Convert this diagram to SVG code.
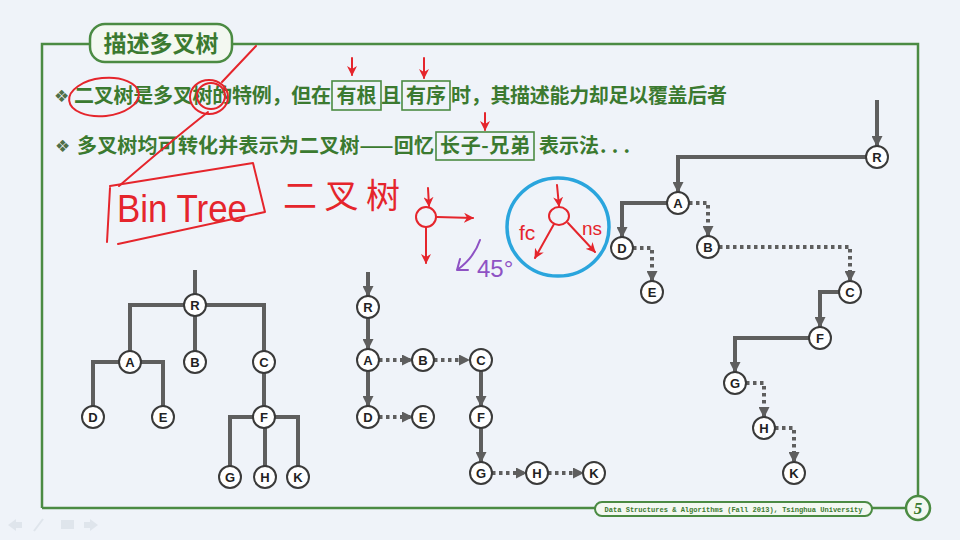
<svg xmlns="http://www.w3.org/2000/svg" width="960" height="540" viewBox="0 0 960 540">
<defs>
<style>
.frame{fill:none;stroke:#4b8b43;stroke-width:2.5}
.cn{font-family:"Noto Sans CJK SC","Noto Sans CJK TC",sans-serif;font-weight:bold;fill:#3b7a30}
.bul{font-family:"DejaVu Sans",sans-serif;font-size:17px;fill:#4f6f48}
.wbox{fill:none;stroke:#4b8b43;stroke-width:1.6}
.ln{fill:none;stroke:#5e5e5e;stroke-width:4}
.dot{fill:none;stroke:#5e5e5e;stroke-width:4;stroke-dasharray:3.5 3.5}
.nd circle{fill:#ffffff;stroke:#3a3a3a;stroke-width:2}
.nd text{font-family:"Liberation Sans",Arial,sans-serif;font-weight:bold;font-size:13px;fill:#222;text-anchor:middle}
.red{fill:none;stroke:#e5252c;stroke-width:2;stroke-linecap:round;stroke-linejoin:round}
.redt{fill:#e5252c;font-family:"Liberation Sans",Arial,sans-serif}
.pur{fill:none;stroke:#8e52c4;stroke-width:2;stroke-linecap:round}
</style>
<marker id="ag" markerUnits="userSpaceOnUse" markerWidth="11" markerHeight="11" refX="10" refY="5.5" orient="auto"><path d="M0,0 L11,5.5 L0,11 z" fill="#5e5e5e"/></marker>
<marker id="ar" markerUnits="userSpaceOnUse" markerWidth="10" markerHeight="10" refX="9" refY="5" orient="auto"><path d="M0,0 L10,5 L0,10 L3,5 z" fill="#e5252c"/></marker>
</defs>
<rect x="0" y="0" width="960" height="540" fill="#eff3f9"/>

<!-- frame -->
<path class="frame" d="M42,508 V44 H918 V496 M42,508 H595 M872,508 H906"/>
<g id="title">
<rect x="90" y="24" width="142" height="38" rx="15" fill="#f3f8f1" stroke="#4b8b43" stroke-width="2.5"/>
<text class="cn" x="161" y="52" font-size="23" text-anchor="middle" fill="#3b7a30">描述多叉树</text>
</g>
<g id="footer">
<rect x="595" y="502" width="277" height="14" rx="7" fill="#f3f8f1" stroke="#4b8b43" stroke-width="2"/>
<text x="733.5" y="511.5" font-family="Liberation Mono,monospace" font-size="7.2" font-weight="bold" fill="#3b7a30" text-anchor="middle" textLength="258" lengthAdjust="spacingAndGlyphs">Data Structures &amp; Algorithms (Fall 2013), Tsinghua University</text>
<circle cx="918" cy="508" r="12" fill="#f3f8f1" stroke="#4b8b43" stroke-width="2.5"/>
<text x="918" y="514" font-family="Liberation Serif,serif" font-size="17" font-weight="bold" font-style="italic" fill="#3b7a30" text-anchor="middle">5</text>
</g>
<g id="nav" fill="#dfe5ec">
<path d="M8,525 L16,519 L16,522 L22,522 L22,528 L16,528 L16,531 z"/>
<path d="M34,531 L43,519" stroke="#dfe5ec" stroke-width="2"/>
<rect x="61" y="520" width="13" height="9"/>
<path d="M98,525 L90,519 L90,522 L84,522 L84,528 L90,528 L90,531 z"/>
</g>

<!-- text lines -->
<g id="line1">
<text class="bul" x="54" y="102">❖</text>
<text class="cn" font-size="20" x="74" y="103" textLength="257" lengthAdjust="spacing">二叉树是多叉树的特例，但在</text>
<rect class="wbox" x="332" y="81" width="49" height="29"/>
<text class="cn" font-size="20" x="336.5" y="103">有根</text>
<text class="cn" font-size="20" x="381" y="103">且</text>
<rect class="wbox" x="402" y="81" width="48" height="29"/>
<text class="cn" font-size="20" x="406" y="103">有序</text>
<text class="cn" font-size="20" x="451" y="103" textLength="276" lengthAdjust="spacing">时，其描述能力却足以覆盖后者</text>
</g>
<g id="line2">
<text class="bul" x="55" y="152">❖</text>
<text class="cn" font-size="20" x="77" y="153" textLength="357" lengthAdjust="spacing">多叉树均可转化并表示为二叉树——回忆</text>
<rect class="wbox" x="436" y="132" width="98" height="28"/>
<text class="cn" font-size="20" x="440" y="153" textLength="90" lengthAdjust="spacing">长子-兄弟</text>
<text class="cn" font-size="20" x="539" y="153">表示法</text>
<text class="cn" font-size="20" x="600" y="153" textLength="30" lengthAdjust="spacing">...</text>
</g>

<!-- handwritten annotations -->
<g id="annotations">
<ellipse class="red" cx="104" cy="97" rx="35" ry="19" transform="rotate(-6 104 97)"/>
<ellipse class="red" cx="209" cy="97" rx="19" ry="17"/>
<ellipse class="red" cx="211" cy="96" rx="14" ry="13"/>
<path class="red" d="M256,46 L222,82"/>
<path class="red" d="M208,112 Q170,142 119,186"/>
<path class="red" d="M352,58 L352,75" marker-end="url(#ar)"/>
<path class="red" d="M424,58 L424,78" marker-end="url(#ar)"/>
<path class="red" d="M485,113 L485,130" marker-end="url(#ar)"/>
<path class="red" d="M110,186 L253,163 L265,212 L118,244 M110,188 L107,242"/>
<text class="redt" x="117" y="222" font-size="38" textLength="130" lengthAdjust="spacingAndGlyphs">Bin Tree</text>
<text x="283" y="208" font-family="Noto Sans CJK SC,sans-serif" font-size="34" fill="#e5252c" textLength="117" lengthAdjust="spacing">二叉树</text>
<circle class="red" cx="426" cy="217" r="10"/>
<path class="red" d="M428,188 L429,206" marker-end="url(#ar)"/>
<path class="red" d="M437,217 L473,218" marker-end="url(#ar)"/>
<path class="red" d="M426,227 L426,263" marker-end="url(#ar)"/>
<path class="pur" d="M480,240 Q474,258 457,270 M457,270 L460,259 M457,270 L468,270"/>
<text x="477" y="277" font-family="Liberation Sans,sans-serif" font-size="24" fill="#8e52c4">45°</text>
<ellipse cx="558" cy="227" rx="51" ry="49" fill="none" stroke="#2aa5dd" stroke-width="3.5"/>
<ellipse class="red" cx="559" cy="216" rx="10" ry="9"/>
<path class="red" d="M557,185 L559,206" marker-end="url(#ar)"/>
<path class="red" d="M554,224 L535,258" marker-end="url(#ar)"/>
<path class="red" d="M568,223 L595,252" marker-end="url(#ar)"/>
<text class="redt" x="519" y="240" font-size="21">fc</text>
<text class="redt" x="582" y="235" font-size="19">ns</text>
</g>

<!-- connectors -->
<g id="connectors">
<!-- tree 1 -->
<path class="ln" d="M195,270 V360 M130,360 V305 H264 V360 M264,360 V417 M93,417 V362 H163 V417 M230,477 V417 H298 V477 M265,417 V477"/>
<!-- tree 2 -->
<path class="ln" d="M368,272 V296" marker-end="url(#ag)"/>
<path class="ln" d="M368,318 V349" marker-end="url(#ag)"/>
<path class="ln" d="M368,371 V406" marker-end="url(#ag)"/>
<path class="ln" d="M481,371 V406" marker-end="url(#ag)"/>
<path class="ln" d="M481,428 V462" marker-end="url(#ag)"/>
<path class="dot" d="M379,360 H412" marker-end="url(#ag)"/>
<path class="dot" d="M434,360 H469" marker-end="url(#ag)"/>
<path class="dot" d="M379,417 H412" marker-end="url(#ag)"/>
<path class="dot" d="M492,473 H526" marker-end="url(#ag)"/>
<path class="dot" d="M548,473 H583" marker-end="url(#ag)"/>
<!-- tree 3 -->
<path class="ln" d="M877,100 V146" marker-end="url(#ag)"/>
<path class="ln" d="M866,157 H678 V192" marker-end="url(#ag)"/>
<path class="ln" d="M667,203 H622 V237" marker-end="url(#ag)"/>
<path class="dot" d="M689,203 H708 V236" marker-end="url(#ag)"/>
<path class="dot" d="M633,248 H652 V281" marker-end="url(#ag)"/>
<path class="dot" d="M719,247 H850 V281" marker-end="url(#ag)"/>
<path class="ln" d="M839,292 H820 V327" marker-end="url(#ag)"/>
<path class="ln" d="M809,338 H735 V372" marker-end="url(#ag)"/>
<path class="dot" d="M746,383 H764 V417" marker-end="url(#ag)"/>
<path class="dot" d="M775,428 H794 V462" marker-end="url(#ag)"/>
</g>

<!-- tree 1 nodes -->
<g id="t1-R" class="nd"><circle cx="195" cy="305" r="11"/><text x="195" y="309.5">R</text></g>
<g id="t1-A" class="nd"><circle cx="130" cy="362" r="11"/><text x="130" y="366.5">A</text></g>
<g id="t1-B" class="nd"><circle cx="195" cy="362" r="11"/><text x="195" y="366.5">B</text></g>
<g id="t1-C" class="nd"><circle cx="264" cy="362" r="11"/><text x="264" y="366.5">C</text></g>
<g id="t1-D" class="nd"><circle cx="93" cy="417" r="11"/><text x="93" y="421.5">D</text></g>
<g id="t1-E" class="nd"><circle cx="163" cy="417" r="11"/><text x="163" y="421.5">E</text></g>
<g id="t1-F" class="nd"><circle cx="264" cy="417" r="11"/><text x="264" y="421.5">F</text></g>
<g id="t1-G" class="nd"><circle cx="230" cy="477" r="11"/><text x="230" y="481.5">G</text></g>
<g id="t1-H" class="nd"><circle cx="265" cy="477" r="11"/><text x="265" y="481.5">H</text></g>
<g id="t1-K" class="nd"><circle cx="298" cy="477" r="11"/><text x="298" y="481.5">K</text></g>

<!-- tree 2 nodes -->
<g id="t2-R" class="nd"><circle cx="368" cy="307" r="11"/><text x="368" y="311.5">R</text></g>
<g id="t2-A" class="nd"><circle cx="368" cy="360" r="11"/><text x="368" y="364.5">A</text></g>
<g id="t2-B" class="nd"><circle cx="423" cy="360" r="11"/><text x="423" y="364.5">B</text></g>
<g id="t2-C" class="nd"><circle cx="481" cy="360" r="11"/><text x="481" y="364.5">C</text></g>
<g id="t2-D" class="nd"><circle cx="368" cy="417" r="11"/><text x="368" y="421.5">D</text></g>
<g id="t2-E" class="nd"><circle cx="423" cy="417" r="11"/><text x="423" y="421.5">E</text></g>
<g id="t2-F" class="nd"><circle cx="481" cy="417" r="11"/><text x="481" y="421.5">F</text></g>
<g id="t2-G" class="nd"><circle cx="481" cy="473" r="11"/><text x="481" y="477.5">G</text></g>
<g id="t2-H" class="nd"><circle cx="537" cy="473" r="11"/><text x="537" y="477.5">H</text></g>
<g id="t2-K" class="nd"><circle cx="594" cy="473" r="11"/><text x="594" y="477.5">K</text></g>

<!-- tree 3 nodes -->
<g id="t3-R" class="nd"><circle cx="877" cy="157" r="11"/><text x="877" y="161.5">R</text></g>
<g id="t3-A" class="nd"><circle cx="678" cy="203" r="11"/><text x="678" y="207.5">A</text></g>
<g id="t3-D" class="nd"><circle cx="622" cy="248" r="11"/><text x="622" y="252.5">D</text></g>
<g id="t3-B" class="nd"><circle cx="708" cy="247" r="11"/><text x="708" y="251.5">B</text></g>
<g id="t3-E" class="nd"><circle cx="652" cy="292" r="11"/><text x="652" y="296.5">E</text></g>
<g id="t3-C" class="nd"><circle cx="850" cy="292" r="11"/><text x="850" y="296.5">C</text></g>
<g id="t3-F" class="nd"><circle cx="820" cy="338" r="11"/><text x="820" y="342.5">F</text></g>
<g id="t3-G" class="nd"><circle cx="735" cy="383" r="11"/><text x="735" y="387.5">G</text></g>
<g id="t3-H" class="nd"><circle cx="764" cy="428" r="11"/><text x="764" y="432.5">H</text></g>
<g id="t3-K" class="nd"><circle cx="794" cy="473" r="11"/><text x="794" y="477.5">K</text></g>
</svg>
